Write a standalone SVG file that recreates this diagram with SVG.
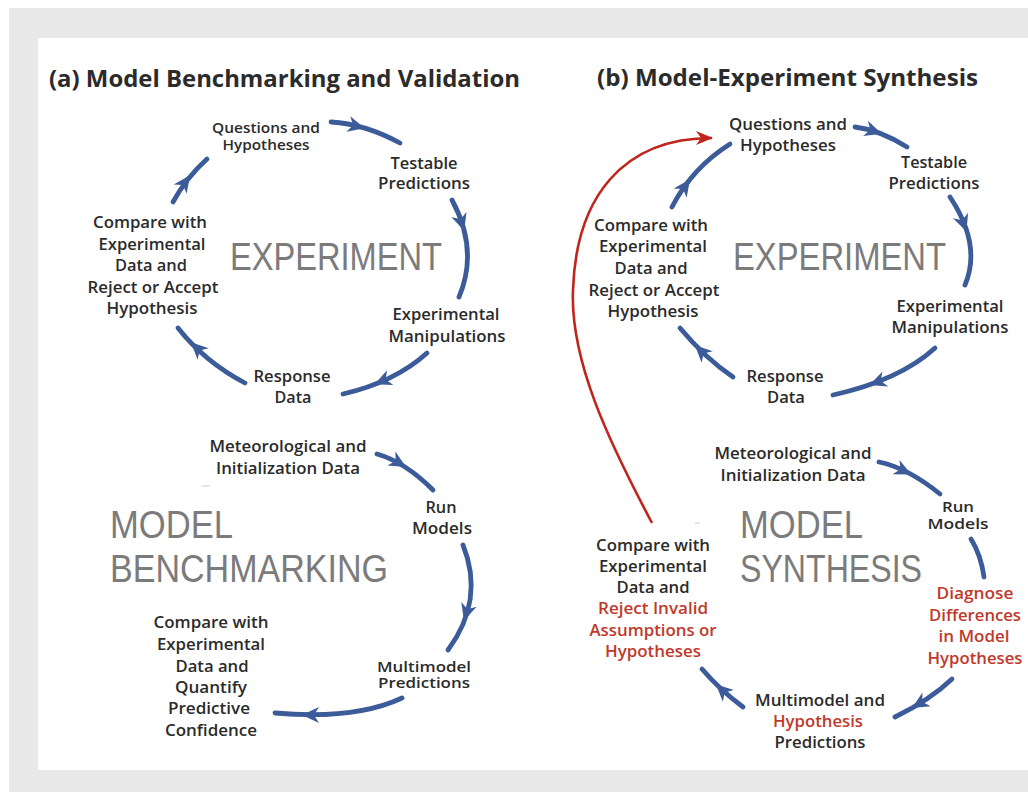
<svg xmlns="http://www.w3.org/2000/svg" xmlns:xlink="http://www.w3.org/1999/xlink" width="1028" height="792" viewBox="0 0 1028 792">
<defs>
<style>
.t{font-family:"Open Sans","Liberation Sans",sans-serif;font-weight:600;font-size:16px;fill:#2b2b2b;text-anchor:middle}
.s{font-size:13.5px}
.r{fill:#c0392b}
.big{font-family:"Liberation Sans","Open Sans",sans-serif;font-weight:400;font-size:38px;fill:#7b7b7b}
.title{font-family:"Open Sans","Liberation Sans",sans-serif;font-weight:700;font-size:24px;fill:#2b2b2b}
.arc{fill:none;stroke:#3b5b99;stroke-width:4.8;stroke-linecap:round}
.ah{fill:#3b5b99}
.red{fill:none;stroke:#c0241c;stroke-width:2.6}
</style>
<path id="ah" d="M7,0 L-10,-8 L-5,0 L-10,8 Z"/>
<marker id="redhead" viewBox="-16 -8 20 16" markerWidth="20" markerHeight="16" refX="2" refY="0" orient="auto" markerUnits="userSpaceOnUse">
<path d="M3,0 L-14,-7 L-9,0 L-14,7 Z" fill="#c0241c"/>
</marker>
</defs>
<rect x="0" y="0" width="1028" height="792" fill="#ffffff"/>
<rect x="9" y="8" width="1019" height="784" fill="#e8e8e8"/>
<rect x="38" y="38" width="990" height="732" fill="#ffffff"/>

<g id="title-a"><text class="title" x="49" y="87" textLength="471" lengthAdjust="spacingAndGlyphs">(a) Model Benchmarking and Validation</text></g>
<g id="title-b"><text class="title" x="597" y="86" textLength="381" lengthAdjust="spacingAndGlyphs">(b) Model-Experiment Synthesis</text></g>

<g id="connectors">
<path class="arc" d="M331,122 Q365,124 400,143"/>
<use href="#ah" class="ah" transform="translate(358,126.5) rotate(14)"/>
<path class="arc" d="M452,200 Q479,250 459,297"/>
<use href="#ah" class="ah" transform="translate(462,224) rotate(72)"/>
<path class="arc" d="M427,353 Q395,382 343,394"/>
<use href="#ah" class="ah" transform="translate(381,381.5) rotate(157)"/>
<path class="arc" d="M245,383 Q205,362 178,328"/>
<use href="#ah" class="ah" transform="translate(196,347) rotate(224)"/>
<path class="arc" d="M173,202 Q186,178 207,159"/>
<use href="#ah" class="ah" transform="translate(186,181) rotate(-54)"/>
<path class="arc" d="M377,454 Q405,462 433,490"/>
<use href="#ah" class="ah" transform="translate(400,463.5) rotate(30)"/>
<path class="arc" d="M463,545 Q485,600 448,650"/>
<use href="#ah" class="ah" transform="translate(466,614) rotate(107)"/>
<path class="arc" d="M402,698 Q355,720 275,713"/>
<use href="#ah" class="ah" transform="translate(309,715) rotate(180)"/>
<path class="arc" d="M855,127 Q880,130 907,147"/>
<use href="#ah" class="ah" transform="translate(875,131.5) rotate(18)"/>
<path class="arc" d="M950,197 Q982,245 965,285"/>
<use href="#ah" class="ah" transform="translate(964,225) rotate(70)"/>
<path class="arc" d="M935,348 Q900,380 833,395"/>
<use href="#ah" class="ah" transform="translate(876,382.5) rotate(159)"/>
<path class="arc" d="M733,377 Q705,358 680,328"/>
<use href="#ah" class="ah" transform="translate(700,350) rotate(224)"/>
<path class="arc" d="M672,207 Q692,168 730,144"/>
<use href="#ah" class="ah" transform="translate(686,185) rotate(-54)"/>
<path class="arc" d="M879,462 Q908,468 940,494"/>
<use href="#ah" class="ah" transform="translate(905,471.5) rotate(26)"/>
<path class="arc" d="M971,539 Q981,555 984,577"/>
<path class="arc" d="M952,679 Q930,700 895,717"/>
<use href="#ah" class="ah" transform="translate(918,704.5) rotate(149)"/>
<path class="arc" d="M743,707 Q720,690 702,669"/>
<use href="#ah" class="ah" transform="translate(721,689) rotate(-137)"/>
<path class="red" d="M652,523 C608,440 570,360 573,290 C576,198 622,138 712,138" marker-end="url(#redhead)"/>
</g>

<g id="marks">
<line x1="202" y1="486" x2="210" y2="486" stroke="#c8ccd6" stroke-width="1"/>
<line x1="695" y1="523" x2="700" y2="523" stroke="#c8ccd6" stroke-width="1"/>
</g>

<g id="a-big-experiment"><text class="big" x="230" y="270" textLength="212" lengthAdjust="spacingAndGlyphs">EXPERIMENT</text></g>
<g id="a-questions">
<text class="t s" x="266" y="133" textLength="108" lengthAdjust="spacingAndGlyphs">Questions and</text>
<text class="t s" x="266" y="150" textLength="87" lengthAdjust="spacingAndGlyphs">Hypotheses</text>
</g>
<g id="a-testable">
<text class="t" x="424" y="169" textLength="67" lengthAdjust="spacingAndGlyphs">Testable</text>
<text class="t" x="424" y="189" textLength="92" lengthAdjust="spacingAndGlyphs">Predictions</text>
</g>
<g id="a-manip">
<text class="t" x="446" y="320" textLength="107" lengthAdjust="spacingAndGlyphs">Experimental</text>
<text class="t" x="447" y="342" textLength="117" lengthAdjust="spacingAndGlyphs">Manipulations</text>
</g>
<g id="a-response">
<text class="t" x="292" y="382" textLength="77" lengthAdjust="spacingAndGlyphs">Response</text>
<text class="t" x="293" y="403" textLength="37" lengthAdjust="spacingAndGlyphs">Data</text>
</g>
<g id="a-compare">
<text class="t" x="150" y="228" textLength="114" lengthAdjust="spacingAndGlyphs">Compare with</text>
<text class="t" x="152" y="250" textLength="107" lengthAdjust="spacingAndGlyphs">Experimental</text>
<text class="t" x="151" y="271" textLength="72" lengthAdjust="spacingAndGlyphs">Data and</text>
<text class="t" x="153" y="293" textLength="131" lengthAdjust="spacingAndGlyphs">Reject or Accept</text>
<text class="t" x="152" y="314" textLength="91" lengthAdjust="spacingAndGlyphs">Hypothesis</text>
</g>
<g id="a-big-model">
<text class="big" x="110" y="538" textLength="123" lengthAdjust="spacingAndGlyphs">MODEL</text>
<text class="big" x="110" y="582" textLength="278" lengthAdjust="spacingAndGlyphs">BENCHMARKING</text>
</g>
<g id="a-meteo">
<text class="t" x="288" y="452" textLength="157" lengthAdjust="spacingAndGlyphs">Meteorological and</text>
<text class="t" x="288" y="474" textLength="144" lengthAdjust="spacingAndGlyphs">Initialization Data</text>
</g>
<g id="a-run">
<text class="t" x="441" y="513" textLength="31" lengthAdjust="spacingAndGlyphs">Run</text>
<text class="t" x="442" y="534" textLength="60" lengthAdjust="spacingAndGlyphs">Models</text>
</g>
<g id="a-multimodel">
<text class="t s" x="424" y="672" textLength="94" lengthAdjust="spacingAndGlyphs">Multimodel</text>
<text class="t s" x="424" y="688" textLength="92" lengthAdjust="spacingAndGlyphs">Predictions</text>
</g>
<g id="a-quantify">
<text class="t" x="211" y="628" textLength="115" lengthAdjust="spacingAndGlyphs">Compare with</text>
<text class="t" x="211" y="650" textLength="108" lengthAdjust="spacingAndGlyphs">Experimental</text>
<text class="t" x="212" y="672" textLength="73" lengthAdjust="spacingAndGlyphs">Data and</text>
<text class="t" x="211" y="693" textLength="72" lengthAdjust="spacingAndGlyphs">Quantify</text>
<text class="t" x="209" y="714" textLength="82" lengthAdjust="spacingAndGlyphs">Predictive</text>
<text class="t" x="211" y="736" textLength="92" lengthAdjust="spacingAndGlyphs">Confidence</text>
</g>

<g id="b-big-experiment"><text class="big" x="733" y="270" textLength="213" lengthAdjust="spacingAndGlyphs">EXPERIMENT</text></g>
<g id="b-questions">
<text class="t" x="788" y="130" textLength="118" lengthAdjust="spacingAndGlyphs">Questions and</text>
<text class="t" x="788" y="151" textLength="96" lengthAdjust="spacingAndGlyphs">Hypotheses</text>
</g>
<g id="b-testable">
<text class="t" x="934" y="168" textLength="66" lengthAdjust="spacingAndGlyphs">Testable</text>
<text class="t" x="934" y="189" textLength="91" lengthAdjust="spacingAndGlyphs">Predictions</text>
</g>
<g id="b-manip">
<text class="t" x="950" y="312" textLength="107" lengthAdjust="spacingAndGlyphs">Experimental</text>
<text class="t" x="950" y="333" textLength="117" lengthAdjust="spacingAndGlyphs">Manipulations</text>
</g>
<g id="b-response">
<text class="t" x="785" y="382" textLength="77" lengthAdjust="spacingAndGlyphs">Response</text>
<text class="t" x="786" y="403" textLength="38" lengthAdjust="spacingAndGlyphs">Data</text>
</g>
<g id="b-compare">
<text class="t" x="651" y="231" textLength="114" lengthAdjust="spacingAndGlyphs">Compare with</text>
<text class="t" x="653" y="252" textLength="108" lengthAdjust="spacingAndGlyphs">Experimental</text>
<text class="t" x="651" y="274" textLength="73" lengthAdjust="spacingAndGlyphs">Data and</text>
<text class="t" x="654" y="296" textLength="131" lengthAdjust="spacingAndGlyphs">Reject or Accept</text>
<text class="t" x="653" y="317" textLength="91" lengthAdjust="spacingAndGlyphs">Hypothesis</text>
</g>
<g id="b-big-model">
<text class="big" x="740" y="538" textLength="123" lengthAdjust="spacingAndGlyphs">MODEL</text>
<text class="big" x="740" y="582" textLength="182" lengthAdjust="spacingAndGlyphs">SYNTHESIS</text>
</g>
<g id="b-meteo">
<text class="t" x="793" y="459" textLength="157" lengthAdjust="spacingAndGlyphs">Meteorological and</text>
<text class="t" x="793" y="481" textLength="145" lengthAdjust="spacingAndGlyphs">Initialization Data</text>
</g>
<g id="b-run">
<text class="t s" x="958" y="512" textLength="32" lengthAdjust="spacingAndGlyphs">Run</text>
<text class="t s" x="958" y="529" textLength="61" lengthAdjust="spacingAndGlyphs">Models</text>
</g>
<g id="b-diagnose">
<text class="t r" x="975" y="599" textLength="77" lengthAdjust="spacingAndGlyphs">Diagnose</text>
<text class="t r" x="975" y="621" textLength="92" lengthAdjust="spacingAndGlyphs">Differences</text>
<text class="t r" x="974" y="642" textLength="71" lengthAdjust="spacingAndGlyphs">in Model</text>
<text class="t r" x="975" y="664" textLength="95" lengthAdjust="spacingAndGlyphs">Hypotheses</text>
</g>
<g id="b-multimodel">
<text class="t" x="820" y="706" textLength="130" lengthAdjust="spacingAndGlyphs">Multimodel and</text>
<text class="t r" x="818" y="727" textLength="90" lengthAdjust="spacingAndGlyphs">Hypothesis</text>
<text class="t" x="820" y="748" textLength="91" lengthAdjust="spacingAndGlyphs">Predictions</text>
</g>
<g id="b-reject">
<text class="t" x="653" y="551" textLength="114" lengthAdjust="spacingAndGlyphs">Compare with</text>
<text class="t" x="653" y="572" textLength="108" lengthAdjust="spacingAndGlyphs">Experimental</text>
<text class="t" x="653" y="593" textLength="73" lengthAdjust="spacingAndGlyphs">Data and</text>
<text class="t r" x="653" y="614" textLength="110" lengthAdjust="spacingAndGlyphs">Reject Invalid</text>
<text class="t r" x="653" y="636" textLength="127" lengthAdjust="spacingAndGlyphs">Assumptions or</text>
<text class="t r" x="653" y="657" textLength="96" lengthAdjust="spacingAndGlyphs">Hypotheses</text>
</g>
</svg>
